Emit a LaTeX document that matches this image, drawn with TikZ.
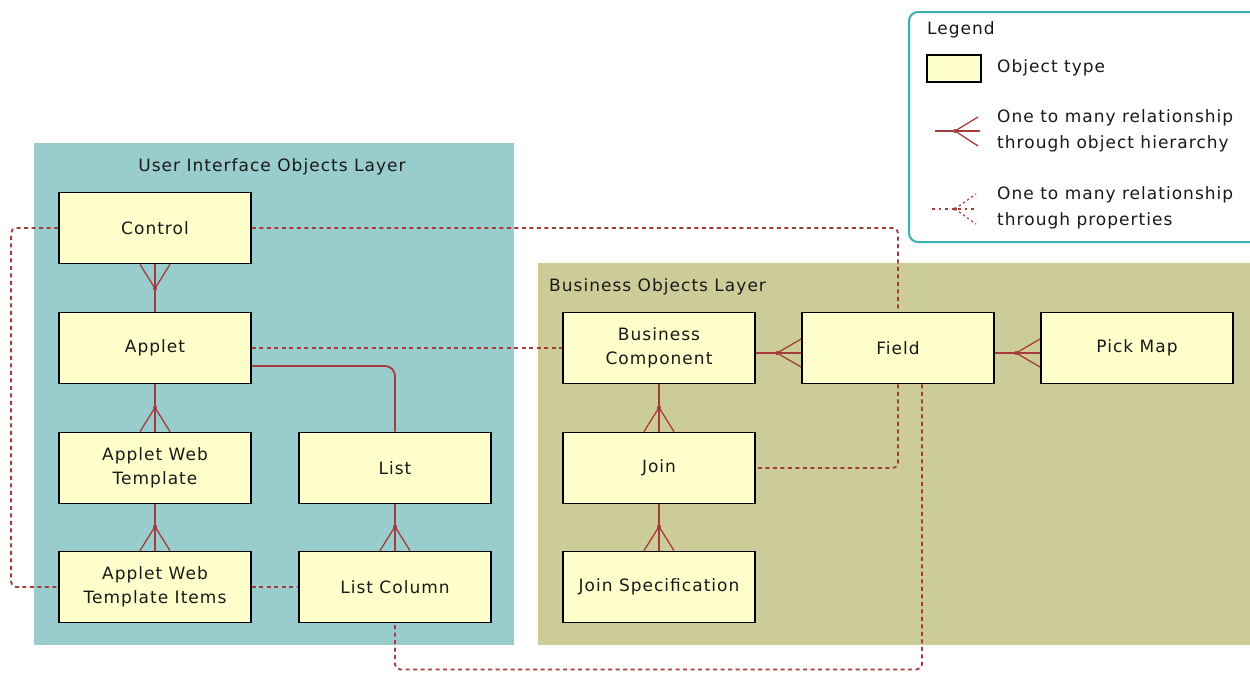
\documentclass[tikz,border=0pt]{standalone}
\usepackage{fontspec}
\setmainfont{DejaVu Sans}[LetterSpace=6]
\usetikzlibrary{calc}
\definecolor{uibg}{RGB}{153,204,204}
\definecolor{bobg}{RGB}{204,204,153}
\definecolor{boxfill}{RGB}{255,255,204}
\definecolor{relcol}{RGB}{165,60,60}
\definecolor{legcol}{RGB}{58,176,176}
\definecolor{txt}{RGB}{25,25,25}
\tikzset{
  objbox/.style={draw=black, line width=1.8pt, fill=boxfill, minimum width=192pt, minimum height=71pt,
    inner sep=0pt, align=center, text=txt, font=\fontsize{17}{24}\selectfont},
  rel/.style={draw=relcol, line width=1.8pt},
  fanline/.style={draw=relcol, line width=1.3pt},
  prop/.style={draw=relcol, line width=1.8pt, dash pattern=on 4pt off 3.5pt, rounded corners=5pt},
  propfan/.style={draw=relcol, line width=1.3pt, dash pattern=on 2pt off 3pt},
  layertitle/.style={text=txt, font=\fontsize{17}{20}\selectfont, inner sep=0pt},
  legtext/.style={text=txt, font=\fontsize{17}{26}\selectfont, inner sep=0pt, align=left, anchor=west}
}
\newcommand\crowfoot[3]{%
  \draw[fanline] ($#1+#2$) -- ($#1+#3$) ($#1+#2$) -- ($#1-#3$);
  \fill[relcol] ($#1+#2$) circle (2pt);}
\begin{document}
\begin{tikzpicture}[x={(1pt,0)}, y={(0,-1pt)}]
\useasboundingbox (0,0) rectangle (1250,672);
\clip (0,0) rectangle (1250,672);
% layers
\fill[uibg] (34,143) rectangle (514,645);
\fill[bobg] (538,263) rectangle (1260,645);
\node[layertitle] (uititle) at (272,167) {User Interface Objects Layer};
\node[layertitle, anchor=west] (botitle) at (549,287) {Business Objects Layer};
% legend
\draw[legcol, line width=2pt, fill=white, rounded corners=9pt] (909,12) rectangle (1275,242);
\node[legtext] (legtitle) at (927,30) {Legend};
\node[draw=black, line width=1.8pt, fill=boxfill, minimum width=54pt, minimum height=27pt, inner sep=0pt] (legbox) at (954,68.5) {};
\node[legtext] (legobj) at (997,68) {Object type};
\node[legtext] (leghier) at (997,131) {One to many relationship\\through object hierarchy};
\node[legtext] (legprop) at (997,208) {One to many relationship\\through properties};
\coordinate (ls1) at (935,131); \coordinate (ls2) at (980,131); \coordinate (lsp) at (955,131);
\draw[rel] (ls1) -- (ls2);
\draw[fanline] (lsp) -- (978,117) (lsp) -- (978,146);
\fill[relcol] (lsp) circle (2pt);
\coordinate (lp1) at (932,209); \coordinate (lp2) at (975,209); \coordinate (lpp) at (955,209);
\draw[prop, dash pattern=on 2.5pt off 4pt] (lp1) -- (lp2);
\draw[propfan] (lpp) -- (976,194) (lpp) -- (976,224);
\fill[relcol] (lpp) circle (1.8pt);
% objects
\node[objbox] (control) at (155,228) {Control};
\node[objbox] (applet) at (155,348) {Applet};
\node[objbox] (awt) at (155,468) {Applet Web\\Template};
\node[objbox] (awti) at (155,587) {Applet Web\\Template Items};
\node[objbox] (list) at (395,468) {List};
\node[objbox] (lc) at (395,587) {List Column};
\node[objbox] (bc) at (659,348) {Business\\Component};
\node[objbox] (join) at (659,468) {Join};
\node[objbox] (js) at (659,587) {Join Specification};
\node[objbox] (field) at (898,348) {Field};
\node[objbox] (pm) at (1137,348) {Pick Map};
% property relationships (dotted)
\draw[prop] (control.east) -| (field.north);
\draw[prop] (control.west) -- ([xshift=-47pt]control.west) |- (awti.west);
\draw[prop] (applet.east) -- (bc.west);
\draw[prop] (awti.east) -- (lc.west);
\draw[prop] (field.south) |- (join.east);
\draw[prop] ([xshift=24pt]field.south) -- ([xshift=24pt, yshift=-285pt]field.south) -| (lc.south);
% hierarchy relationships (solid)
\draw[rel] (applet.north) -- (control.south);
\crowfoot{(control.south)}{(0,24)}{(15,0)}
\draw[rel] (applet.south) -- (awt.north);
\crowfoot{(awt.north)}{(0,-24)}{(15,0)}
\draw[rel] (awt.south) -- (awti.north);
\crowfoot{(awti.north)}{(0,-24)}{(15,0)}
\draw[rel, rounded corners=10pt] ([yshift=-18pt]applet.east) -| (list.north);
\draw[rel] (list.south) -- (lc.north);
\crowfoot{(lc.north)}{(0,-24)}{(15,0)}
\draw[rel] (bc.south) -- (join.north);
\crowfoot{(join.north)}{(0,-24)}{(15,0)}
\draw[rel] (join.south) -- (js.north);
\crowfoot{(js.north)}{(0,-24)}{(15,0)}
\draw[rel] ([yshift=-5pt]bc.east) -- ([yshift=-5pt]field.west);
\crowfoot{([yshift=-5pt]field.west)}{(-24,0)}{(0,14)}
\draw[rel] ([yshift=-5pt]field.east) -- ([yshift=-5pt]pm.west);
\crowfoot{([yshift=-5pt]pm.west)}{(-24,0)}{(0,14)}
\end{tikzpicture}
\end{document}
